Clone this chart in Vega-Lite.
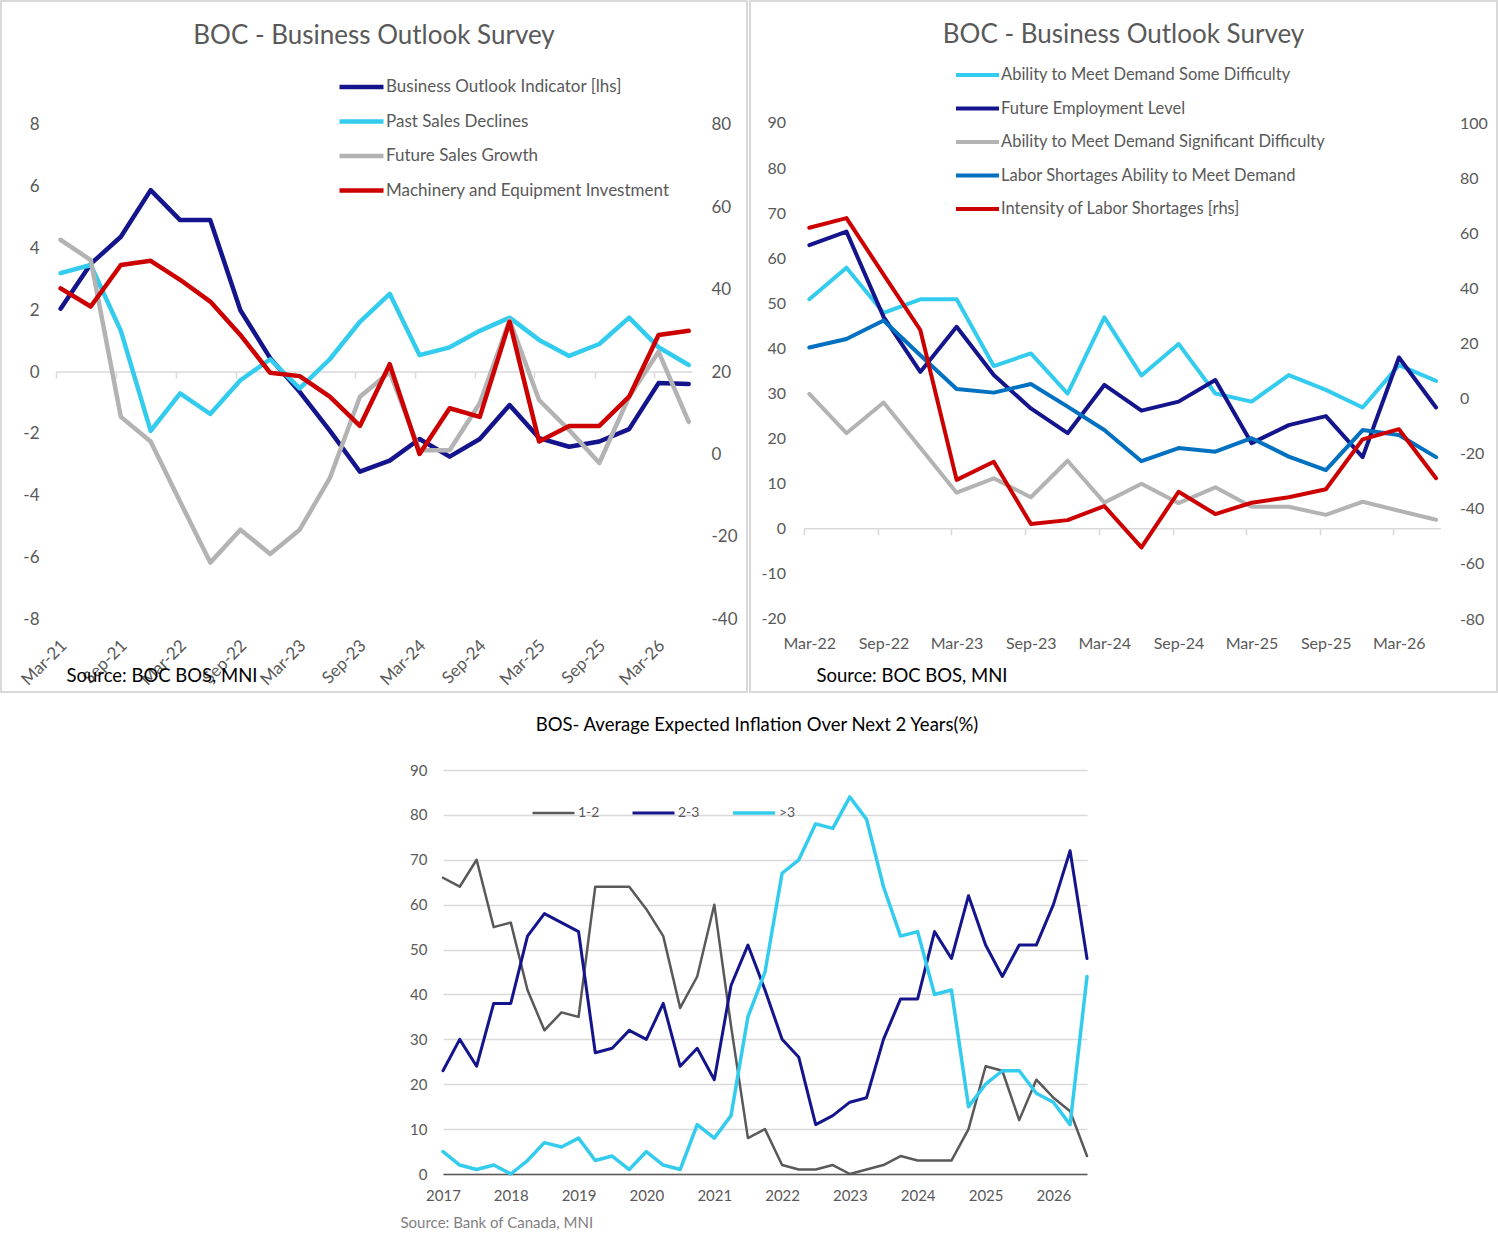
{
  "$schema": "https://vega.github.io/schema/vega-lite/v6.json",
  "background": "white",
  "padding": 0,
  "spacing": 22,
  "resolve": {"scale": {"color": "independent", "strokeWidth": "independent"}, "legend": {"color": "independent"}},
  "config": {
    "font": "Lato",
    "locale": {"number": {"decimal": ".", "thousands": ",", "grouping": [3], "currency": ["$", ""], "minus": "-"}},
    "view": {"stroke": null},
    "axis": {"labelFont": "Lato", "titleFont": "Lato"},
    "legend": {"labelFont": "Lato"},
    "title": {"font": "Lato"}
  },
  "datasets": {
    "tlL": [
      {"date": "2021-03-15", "series": "Business Outlook Indicator [lhs]", "value": 2.05},
      {"date": "2021-06-15", "series": "Business Outlook Indicator [lhs]", "value": 3.5},
      {"date": "2021-09-15", "series": "Business Outlook Indicator [lhs]", "value": 4.38},
      {"date": "2021-12-15", "series": "Business Outlook Indicator [lhs]", "value": 5.89},
      {"date": "2022-03-15", "series": "Business Outlook Indicator [lhs]", "value": 4.92},
      {"date": "2022-06-15", "series": "Business Outlook Indicator [lhs]", "value": 4.92},
      {"date": "2022-09-15", "series": "Business Outlook Indicator [lhs]", "value": 2.0},
      {"date": "2022-12-15", "series": "Business Outlook Indicator [lhs]", "value": 0.45},
      {"date": "2023-03-15", "series": "Business Outlook Indicator [lhs]", "value": -0.64},
      {"date": "2023-06-15", "series": "Business Outlook Indicator [lhs]", "value": -1.9},
      {"date": "2023-09-15", "series": "Business Outlook Indicator [lhs]", "value": -3.23},
      {"date": "2023-12-15", "series": "Business Outlook Indicator [lhs]", "value": -2.87},
      {"date": "2024-03-15", "series": "Business Outlook Indicator [lhs]", "value": -2.17},
      {"date": "2024-06-15", "series": "Business Outlook Indicator [lhs]", "value": -2.74},
      {"date": "2024-09-15", "series": "Business Outlook Indicator [lhs]", "value": -2.17},
      {"date": "2024-12-15", "series": "Business Outlook Indicator [lhs]", "value": -1.07},
      {"date": "2025-03-15", "series": "Business Outlook Indicator [lhs]", "value": -2.14},
      {"date": "2025-06-15", "series": "Business Outlook Indicator [lhs]", "value": -2.42},
      {"date": "2025-09-15", "series": "Business Outlook Indicator [lhs]", "value": -2.25},
      {"date": "2025-12-15", "series": "Business Outlook Indicator [lhs]", "value": -1.85},
      {"date": "2026-03-15", "series": "Business Outlook Indicator [lhs]", "value": -0.36},
      {"date": "2026-06-15", "series": "Business Outlook Indicator [lhs]", "value": -0.39}
    ],
    "tlR": [
      {"date": "2021-03-15", "series": "Past Sales Declines", "value": 44},
      {"date": "2021-06-15", "series": "Past Sales Declines", "value": 46},
      {"date": "2021-09-15", "series": "Past Sales Declines", "value": 30},
      {"date": "2021-12-15", "series": "Past Sales Declines", "value": 5.7},
      {"date": "2022-03-15", "series": "Past Sales Declines", "value": 14.8},
      {"date": "2022-06-15", "series": "Past Sales Declines", "value": 9.8},
      {"date": "2022-09-15", "series": "Past Sales Declines", "value": 18},
      {"date": "2022-12-15", "series": "Past Sales Declines", "value": 23.1},
      {"date": "2023-03-15", "series": "Past Sales Declines", "value": 16},
      {"date": "2023-06-15", "series": "Past Sales Declines", "value": 23.1},
      {"date": "2023-09-15", "series": "Past Sales Declines", "value": 32.2},
      {"date": "2023-12-15", "series": "Past Sales Declines", "value": 39},
      {"date": "2024-03-15", "series": "Past Sales Declines", "value": 24.1},
      {"date": "2024-06-15", "series": "Past Sales Declines", "value": 26},
      {"date": "2024-09-15", "series": "Past Sales Declines", "value": 30},
      {"date": "2024-12-15", "series": "Past Sales Declines", "value": 33.2},
      {"date": "2025-03-15", "series": "Past Sales Declines", "value": 27.8},
      {"date": "2025-06-15", "series": "Past Sales Declines", "value": 23.9},
      {"date": "2025-09-15", "series": "Past Sales Declines", "value": 26.8},
      {"date": "2025-12-15", "series": "Past Sales Declines", "value": 33.2},
      {"date": "2026-03-15", "series": "Past Sales Declines", "value": 26},
      {"date": "2026-06-15", "series": "Past Sales Declines", "value": 21.7},
      {"date": "2021-03-15", "series": "Future Sales Growth", "value": 52.1},
      {"date": "2021-06-15", "series": "Future Sales Growth", "value": 47.2},
      {"date": "2021-09-15", "series": "Future Sales Growth", "value": 9.1},
      {"date": "2021-12-15", "series": "Future Sales Growth", "value": 3.1},
      {"date": "2022-03-15", "series": "Future Sales Growth", "value": -11.5},
      {"date": "2022-06-15", "series": "Future Sales Growth", "value": -26.3},
      {"date": "2022-09-15", "series": "Future Sales Growth", "value": -18.3},
      {"date": "2022-12-15", "series": "Future Sales Growth", "value": -24.2},
      {"date": "2023-03-15", "series": "Future Sales Growth", "value": -18.3},
      {"date": "2023-06-15", "series": "Future Sales Growth", "value": -5.8},
      {"date": "2023-09-15", "series": "Future Sales Growth", "value": 14},
      {"date": "2023-12-15", "series": "Future Sales Growth", "value": 20},
      {"date": "2024-03-15", "series": "Future Sales Growth", "value": 1},
      {"date": "2024-06-15", "series": "Future Sales Growth", "value": 1},
      {"date": "2024-09-15", "series": "Future Sales Growth", "value": 12.4},
      {"date": "2024-12-15", "series": "Future Sales Growth", "value": 32.6},
      {"date": "2025-03-15", "series": "Future Sales Growth", "value": 13.2},
      {"date": "2025-06-15", "series": "Future Sales Growth", "value": 5.9},
      {"date": "2025-09-15", "series": "Future Sales Growth", "value": -2.1},
      {"date": "2025-12-15", "series": "Future Sales Growth", "value": 14},
      {"date": "2026-03-15", "series": "Future Sales Growth", "value": 24.9},
      {"date": "2026-06-15", "series": "Future Sales Growth", "value": 7.9},
      {"date": "2021-03-15", "series": "Machinery and Equipment Investment", "value": 40.3},
      {"date": "2021-06-15", "series": "Machinery and Equipment Investment", "value": 35.9},
      {"date": "2021-09-15", "series": "Machinery and Equipment Investment", "value": 46},
      {"date": "2021-12-15", "series": "Machinery and Equipment Investment", "value": 47},
      {"date": "2022-03-15", "series": "Machinery and Equipment Investment", "value": 42.4},
      {"date": "2022-06-15", "series": "Machinery and Equipment Investment", "value": 37.1},
      {"date": "2022-09-15", "series": "Machinery and Equipment Investment", "value": 29},
      {"date": "2022-12-15", "series": "Machinery and Equipment Investment", "value": 19.8},
      {"date": "2023-03-15", "series": "Machinery and Equipment Investment", "value": 19},
      {"date": "2023-06-15", "series": "Machinery and Equipment Investment", "value": 14},
      {"date": "2023-09-15", "series": "Machinery and Equipment Investment", "value": 6.9},
      {"date": "2023-12-15", "series": "Machinery and Equipment Investment", "value": 21.9},
      {"date": "2024-03-15", "series": "Machinery and Equipment Investment", "value": 0.1},
      {"date": "2024-06-15", "series": "Machinery and Equipment Investment", "value": 11.2},
      {"date": "2024-09-15", "series": "Machinery and Equipment Investment", "value": 9.1},
      {"date": "2024-12-15", "series": "Machinery and Equipment Investment", "value": 32.2},
      {"date": "2025-03-15", "series": "Machinery and Equipment Investment", "value": 3.1},
      {"date": "2025-06-15", "series": "Machinery and Equipment Investment", "value": 6.9},
      {"date": "2025-09-15", "series": "Machinery and Equipment Investment", "value": 6.9},
      {"date": "2025-12-15", "series": "Machinery and Equipment Investment", "value": 14},
      {"date": "2026-03-15", "series": "Machinery and Equipment Investment", "value": 29},
      {"date": "2026-06-15", "series": "Machinery and Equipment Investment", "value": 30}
    ],
    "trL": [
      {"date": "2022-03-15", "series": "Ability to Meet Demand Some Difficulty", "value": 50.9},
      {"date": "2022-06-15", "series": "Ability to Meet Demand Some Difficulty", "value": 57.9},
      {"date": "2022-09-15", "series": "Ability to Meet Demand Some Difficulty", "value": 47.9},
      {"date": "2022-12-15", "series": "Ability to Meet Demand Some Difficulty", "value": 50.9},
      {"date": "2023-03-15", "series": "Ability to Meet Demand Some Difficulty", "value": 50.9},
      {"date": "2023-06-15", "series": "Ability to Meet Demand Some Difficulty", "value": 36.1},
      {"date": "2023-09-15", "series": "Ability to Meet Demand Some Difficulty", "value": 38.9},
      {"date": "2023-12-15", "series": "Ability to Meet Demand Some Difficulty", "value": 30},
      {"date": "2024-03-15", "series": "Ability to Meet Demand Some Difficulty", "value": 46.9},
      {"date": "2024-06-15", "series": "Ability to Meet Demand Some Difficulty", "value": 34},
      {"date": "2024-09-15", "series": "Ability to Meet Demand Some Difficulty", "value": 41},
      {"date": "2024-12-15", "series": "Ability to Meet Demand Some Difficulty", "value": 30},
      {"date": "2025-03-15", "series": "Ability to Meet Demand Some Difficulty", "value": 28.2},
      {"date": "2025-06-15", "series": "Ability to Meet Demand Some Difficulty", "value": 34.1},
      {"date": "2025-09-15", "series": "Ability to Meet Demand Some Difficulty", "value": 30.8},
      {"date": "2025-12-15", "series": "Ability to Meet Demand Some Difficulty", "value": 26.9},
      {"date": "2026-03-15", "series": "Ability to Meet Demand Some Difficulty", "value": 36.3},
      {"date": "2026-06-15", "series": "Ability to Meet Demand Some Difficulty", "value": 32.8},
      {"date": "2022-03-15", "series": "Future Employment Level", "value": 62.9},
      {"date": "2022-06-15", "series": "Future Employment Level", "value": 65.9},
      {"date": "2022-09-15", "series": "Future Employment Level", "value": 47},
      {"date": "2022-12-15", "series": "Future Employment Level", "value": 34.8},
      {"date": "2023-03-15", "series": "Future Employment Level", "value": 44.8},
      {"date": "2023-06-15", "series": "Future Employment Level", "value": 34.1},
      {"date": "2023-09-15", "series": "Future Employment Level", "value": 26.7},
      {"date": "2023-12-15", "series": "Future Employment Level", "value": 21.2},
      {"date": "2024-03-15", "series": "Future Employment Level", "value": 31.9},
      {"date": "2024-06-15", "series": "Future Employment Level", "value": 26.2},
      {"date": "2024-09-15", "series": "Future Employment Level", "value": 28.2},
      {"date": "2024-12-15", "series": "Future Employment Level", "value": 33},
      {"date": "2025-03-15", "series": "Future Employment Level", "value": 19},
      {"date": "2025-06-15", "series": "Future Employment Level", "value": 23},
      {"date": "2025-09-15", "series": "Future Employment Level", "value": 25},
      {"date": "2025-12-15", "series": "Future Employment Level", "value": 15.9},
      {"date": "2026-03-15", "series": "Future Employment Level", "value": 38},
      {"date": "2026-06-15", "series": "Future Employment Level", "value": 26.9},
      {"date": "2022-03-15", "series": "Ability to Meet Demand Significant Difficulty", "value": 29.9},
      {"date": "2022-06-15", "series": "Ability to Meet Demand Significant Difficulty", "value": 21.2},
      {"date": "2022-09-15", "series": "Ability to Meet Demand Significant Difficulty", "value": 28},
      {"date": "2022-12-15", "series": "Ability to Meet Demand Significant Difficulty", "value": 18},
      {"date": "2023-03-15", "series": "Ability to Meet Demand Significant Difficulty", "value": 8},
      {"date": "2023-06-15", "series": "Ability to Meet Demand Significant Difficulty", "value": 11.2},
      {"date": "2023-09-15", "series": "Ability to Meet Demand Significant Difficulty", "value": 7},
      {"date": "2023-12-15", "series": "Ability to Meet Demand Significant Difficulty", "value": 15.1},
      {"date": "2024-03-15", "series": "Ability to Meet Demand Significant Difficulty", "value": 5.8},
      {"date": "2024-06-15", "series": "Ability to Meet Demand Significant Difficulty", "value": 10},
      {"date": "2024-09-15", "series": "Ability to Meet Demand Significant Difficulty", "value": 5.7},
      {"date": "2024-12-15", "series": "Ability to Meet Demand Significant Difficulty", "value": 9.2},
      {"date": "2025-03-15", "series": "Ability to Meet Demand Significant Difficulty", "value": 4.9},
      {"date": "2025-06-15", "series": "Ability to Meet Demand Significant Difficulty", "value": 4.9},
      {"date": "2025-09-15", "series": "Ability to Meet Demand Significant Difficulty", "value": 3.1},
      {"date": "2025-12-15", "series": "Ability to Meet Demand Significant Difficulty", "value": 6},
      {"date": "2026-03-15", "series": "Ability to Meet Demand Significant Difficulty", "value": 4},
      {"date": "2026-06-15", "series": "Ability to Meet Demand Significant Difficulty", "value": 2},
      {"date": "2022-03-15", "series": "Labor Shortages Ability to Meet Demand", "value": 40.2},
      {"date": "2022-06-15", "series": "Labor Shortages Ability to Meet Demand", "value": 42.1},
      {"date": "2022-09-15", "series": "Labor Shortages Ability to Meet Demand", "value": 46.2},
      {"date": "2022-12-15", "series": "Labor Shortages Ability to Meet Demand", "value": 38.5},
      {"date": "2023-03-15", "series": "Labor Shortages Ability to Meet Demand", "value": 31},
      {"date": "2023-06-15", "series": "Labor Shortages Ability to Meet Demand", "value": 30.2},
      {"date": "2023-09-15", "series": "Labor Shortages Ability to Meet Demand", "value": 32.1},
      {"date": "2023-12-15", "series": "Labor Shortages Ability to Meet Demand", "value": 27.1},
      {"date": "2024-03-15", "series": "Labor Shortages Ability to Meet Demand", "value": 21.9},
      {"date": "2024-06-15", "series": "Labor Shortages Ability to Meet Demand", "value": 15},
      {"date": "2024-09-15", "series": "Labor Shortages Ability to Meet Demand", "value": 17.9},
      {"date": "2024-12-15", "series": "Labor Shortages Ability to Meet Demand", "value": 17.1},
      {"date": "2025-03-15", "series": "Labor Shortages Ability to Meet Demand", "value": 20.1},
      {"date": "2025-06-15", "series": "Labor Shortages Ability to Meet Demand", "value": 16},
      {"date": "2025-09-15", "series": "Labor Shortages Ability to Meet Demand", "value": 13},
      {"date": "2025-12-15", "series": "Labor Shortages Ability to Meet Demand", "value": 21.9},
      {"date": "2026-03-15", "series": "Labor Shortages Ability to Meet Demand", "value": 20.8},
      {"date": "2026-06-15", "series": "Labor Shortages Ability to Meet Demand", "value": 15.9}
    ],
    "trR": [
      {"date": "2022-03-15", "series": "Intensity of Labor Shortages [rhs]", "value": 62},
      {"date": "2022-06-15", "series": "Intensity of Labor Shortages [rhs]", "value": 65.5},
      {"date": "2022-09-15", "series": "Intensity of Labor Shortages [rhs]", "value": 45},
      {"date": "2022-12-15", "series": "Intensity of Labor Shortages [rhs]", "value": 24.9},
      {"date": "2023-03-15", "series": "Intensity of Labor Shortages [rhs]", "value": -29.5},
      {"date": "2023-06-15", "series": "Intensity of Labor Shortages [rhs]", "value": -22.9},
      {"date": "2023-09-15", "series": "Intensity of Labor Shortages [rhs]", "value": -45.5},
      {"date": "2023-12-15", "series": "Intensity of Labor Shortages [rhs]", "value": -44.1},
      {"date": "2024-03-15", "series": "Intensity of Labor Shortages [rhs]", "value": -39},
      {"date": "2024-06-15", "series": "Intensity of Labor Shortages [rhs]", "value": -54},
      {"date": "2024-09-15", "series": "Intensity of Labor Shortages [rhs]", "value": -33.8},
      {"date": "2024-12-15", "series": "Intensity of Labor Shortages [rhs]", "value": -41.9},
      {"date": "2025-03-15", "series": "Intensity of Labor Shortages [rhs]", "value": -37.8},
      {"date": "2025-06-15", "series": "Intensity of Labor Shortages [rhs]", "value": -35.8},
      {"date": "2025-09-15", "series": "Intensity of Labor Shortages [rhs]", "value": -32.9},
      {"date": "2025-12-15", "series": "Intensity of Labor Shortages [rhs]", "value": -14.8},
      {"date": "2026-03-15", "series": "Intensity of Labor Shortages [rhs]", "value": -11.1},
      {"date": "2026-06-15", "series": "Intensity of Labor Shortages [rhs]", "value": -28.9}
    ],
    "bos": [
      {"date": "2017-01-01", "series": "1-2", "value": 66}, {"date": "2017-04-01", "series": "1-2", "value": 64}, {"date": "2017-07-01", "series": "1-2", "value": 70}, {"date": "2017-10-01", "series": "1-2", "value": 55},
      {"date": "2018-01-01", "series": "1-2", "value": 56}, {"date": "2018-04-01", "series": "1-2", "value": 41}, {"date": "2018-07-01", "series": "1-2", "value": 32}, {"date": "2018-10-01", "series": "1-2", "value": 36},
      {"date": "2019-01-01", "series": "1-2", "value": 35}, {"date": "2019-04-01", "series": "1-2", "value": 64}, {"date": "2019-07-01", "series": "1-2", "value": 64}, {"date": "2019-10-01", "series": "1-2", "value": 64},
      {"date": "2020-01-01", "series": "1-2", "value": 59}, {"date": "2020-04-01", "series": "1-2", "value": 53}, {"date": "2020-07-01", "series": "1-2", "value": 37}, {"date": "2020-10-01", "series": "1-2", "value": 44},
      {"date": "2021-01-01", "series": "1-2", "value": 60}, {"date": "2021-04-01", "series": "1-2", "value": 33}, {"date": "2021-07-01", "series": "1-2", "value": 8}, {"date": "2021-10-01", "series": "1-2", "value": 10},
      {"date": "2022-01-01", "series": "1-2", "value": 2}, {"date": "2022-04-01", "series": "1-2", "value": 1}, {"date": "2022-07-01", "series": "1-2", "value": 1}, {"date": "2022-10-01", "series": "1-2", "value": 2},
      {"date": "2023-01-01", "series": "1-2", "value": 0}, {"date": "2023-04-01", "series": "1-2", "value": 1}, {"date": "2023-07-01", "series": "1-2", "value": 2}, {"date": "2023-10-01", "series": "1-2", "value": 4},
      {"date": "2024-01-01", "series": "1-2", "value": 3}, {"date": "2024-04-01", "series": "1-2", "value": 3}, {"date": "2024-07-01", "series": "1-2", "value": 3}, {"date": "2024-10-01", "series": "1-2", "value": 10},
      {"date": "2025-01-01", "series": "1-2", "value": 24}, {"date": "2025-04-01", "series": "1-2", "value": 23}, {"date": "2025-07-01", "series": "1-2", "value": 12}, {"date": "2025-10-01", "series": "1-2", "value": 21},
      {"date": "2026-01-01", "series": "1-2", "value": 17}, {"date": "2026-04-01", "series": "1-2", "value": 14}, {"date": "2026-07-01", "series": "1-2", "value": 4},
      {"date": "2017-01-01", "series": "2-3", "value": 23}, {"date": "2017-04-01", "series": "2-3", "value": 30}, {"date": "2017-07-01", "series": "2-3", "value": 24}, {"date": "2017-10-01", "series": "2-3", "value": 38},
      {"date": "2018-01-01", "series": "2-3", "value": 38}, {"date": "2018-04-01", "series": "2-3", "value": 53}, {"date": "2018-07-01", "series": "2-3", "value": 58}, {"date": "2018-10-01", "series": "2-3", "value": 56},
      {"date": "2019-01-01", "series": "2-3", "value": 54}, {"date": "2019-04-01", "series": "2-3", "value": 27}, {"date": "2019-07-01", "series": "2-3", "value": 28}, {"date": "2019-10-01", "series": "2-3", "value": 32},
      {"date": "2020-01-01", "series": "2-3", "value": 30}, {"date": "2020-04-01", "series": "2-3", "value": 38}, {"date": "2020-07-01", "series": "2-3", "value": 24}, {"date": "2020-10-01", "series": "2-3", "value": 28},
      {"date": "2021-01-01", "series": "2-3", "value": 21}, {"date": "2021-04-01", "series": "2-3", "value": 42}, {"date": "2021-07-01", "series": "2-3", "value": 51}, {"date": "2021-10-01", "series": "2-3", "value": 41},
      {"date": "2022-01-01", "series": "2-3", "value": 30}, {"date": "2022-04-01", "series": "2-3", "value": 26}, {"date": "2022-07-01", "series": "2-3", "value": 11}, {"date": "2022-10-01", "series": "2-3", "value": 13},
      {"date": "2023-01-01", "series": "2-3", "value": 16}, {"date": "2023-04-01", "series": "2-3", "value": 17}, {"date": "2023-07-01", "series": "2-3", "value": 30}, {"date": "2023-10-01", "series": "2-3", "value": 39},
      {"date": "2024-01-01", "series": "2-3", "value": 39}, {"date": "2024-04-01", "series": "2-3", "value": 54}, {"date": "2024-07-01", "series": "2-3", "value": 48}, {"date": "2024-10-01", "series": "2-3", "value": 62},
      {"date": "2025-01-01", "series": "2-3", "value": 51}, {"date": "2025-04-01", "series": "2-3", "value": 44}, {"date": "2025-07-01", "series": "2-3", "value": 51}, {"date": "2025-10-01", "series": "2-3", "value": 51},
      {"date": "2026-01-01", "series": "2-3", "value": 60}, {"date": "2026-04-01", "series": "2-3", "value": 72}, {"date": "2026-07-01", "series": "2-3", "value": 48},
      {"date": "2017-01-01", "series": ">3", "value": 5}, {"date": "2017-04-01", "series": ">3", "value": 2}, {"date": "2017-07-01", "series": ">3", "value": 1}, {"date": "2017-10-01", "series": ">3", "value": 2},
      {"date": "2018-01-01", "series": ">3", "value": 0}, {"date": "2018-04-01", "series": ">3", "value": 3}, {"date": "2018-07-01", "series": ">3", "value": 7}, {"date": "2018-10-01", "series": ">3", "value": 6},
      {"date": "2019-01-01", "series": ">3", "value": 8}, {"date": "2019-04-01", "series": ">3", "value": 3}, {"date": "2019-07-01", "series": ">3", "value": 4}, {"date": "2019-10-01", "series": ">3", "value": 1},
      {"date": "2020-01-01", "series": ">3", "value": 5}, {"date": "2020-04-01", "series": ">3", "value": 2}, {"date": "2020-07-01", "series": ">3", "value": 1}, {"date": "2020-10-01", "series": ">3", "value": 11},
      {"date": "2021-01-01", "series": ">3", "value": 8}, {"date": "2021-04-01", "series": ">3", "value": 13}, {"date": "2021-07-01", "series": ">3", "value": 35}, {"date": "2021-10-01", "series": ">3", "value": 45},
      {"date": "2022-01-01", "series": ">3", "value": 67}, {"date": "2022-04-01", "series": ">3", "value": 70}, {"date": "2022-07-01", "series": ">3", "value": 78}, {"date": "2022-10-01", "series": ">3", "value": 77},
      {"date": "2023-01-01", "series": ">3", "value": 84}, {"date": "2023-04-01", "series": ">3", "value": 79}, {"date": "2023-07-01", "series": ">3", "value": 64}, {"date": "2023-10-01", "series": ">3", "value": 53},
      {"date": "2024-01-01", "series": ">3", "value": 54}, {"date": "2024-04-01", "series": ">3", "value": 40}, {"date": "2024-07-01", "series": ">3", "value": 41}, {"date": "2024-10-01", "series": ">3", "value": 15},
      {"date": "2025-01-01", "series": ">3", "value": 20}, {"date": "2025-04-01", "series": ">3", "value": 23}, {"date": "2025-07-01", "series": ">3", "value": 23}, {"date": "2025-10-01", "series": ">3", "value": 18},
      {"date": "2026-01-01", "series": ">3", "value": 16}, {"date": "2026-04-01", "series": ">3", "value": 11}, {"date": "2026-07-01", "series": ">3", "value": 44}
    ]
  },
  "vconcat": [
    {
      "bounds": "flush",
      "spacing": 3,
      "resolve": {"scale": {"color": "independent"}, "legend": {"color": "independent"}},
      "hconcat": [
        {
          "width": 746,
          "height": 691,
          "view": {"stroke": "#d9d9d9", "strokeWidth": 2},
          "title": {"text": "BOC - Business Outlook Survey", "anchor": "middle", "frame": "group", "offset": -48, "fontSize": 26, "fontWeight": "normal", "color": "#595959"},
          "layer": [
            {
              "data": {"values": [{}]},
              "mark": {"type": "rule", "color": "#d9d9d9", "strokeWidth": 1.5},
              "encoding": {
                "x": {"datum": {"year": 2021, "month": 3, "date": 1}, "type": "temporal", "scale": {"domain": [{"year": 2020, "month": 9, "date": 14}, {"year": 2026, "month": 12, "date": 10}], "nice": false}, "axis": null},
                "x2": {"datum": {"year": 2026, "month": 6, "date": 27}},
                "y": {"datum": 0, "type": "quantitative", "scale": {"domain": [-10.364, 12.016], "nice": false, "zero": false}, "axis": null}
              }
            },
            {
              "data": {"name": "tlL"},
              "mark": {"type": "line", "strokeWidth": 4.5, "strokeJoin": "round", "strokeCap": "round"},
              "encoding": {
                "x": {
                  "field": "date", "type": "temporal",
                  "scale": {"domain": [{"year": 2020, "month": 9, "date": 14}, {"year": 2026, "month": 12, "date": 10}], "nice": false},
                  "axis": {
                    "orient": "bottom", "offset": -73,
                    "values": [{"year": 2021, "month": 3, "date": 1}, {"year": 2021, "month": 9, "date": 1}, {"year": 2022, "month": 3, "date": 1}, {"year": 2022, "month": 9, "date": 1}, {"year": 2023, "month": 3, "date": 1}, {"year": 2023, "month": 9, "date": 1}, {"year": 2024, "month": 3, "date": 1}, {"year": 2024, "month": 9, "date": 1}, {"year": 2025, "month": 3, "date": 1}, {"year": 2025, "month": 9, "date": 1}, {"year": 2026, "month": 3, "date": 1}],
                    "format": "%b-%y", "labelAngle": -45, "labelAlign": "right", "labelBaseline": "top",
                    "labelOffset": 2, "labelPadding": 18, "labelFontSize": 17, "labelColor": "#595959",
                    "labelOverlap": false, "labelFlush": false, "labelBound": false,
                    "ticks": false, "domain": false, "grid": false,
                    "title": "Source: BOC BOS, MNI", "titleAnchor": "start", "titleAlign": "left", "titleBaseline": "middle",
                    "titleX": 65, "titleY": 56, "titleFontSize": 18.5, "titleFontWeight": "normal", "titleColor": "#000000"
                  }
                },
                "y": {
                  "field": "value", "type": "quantitative",
                  "scale": {"domain": [-10.364, 12.016], "nice": false, "zero": false},
                  "axis": {"orient": "left", "offset": -55, "values": [-8, -6, -4, -2, 0, 2, 4, 6, 8], "domain": false, "ticks": false, "grid": false, "labelPadding": 17, "labelFontSize": 17, "labelColor": "#595959", "title": null}
                },
                "color": {
                  "field": "series", "type": "nominal",
                  "scale": {"domain": ["Business Outlook Indicator [lhs]", "Past Sales Declines", "Future Sales Growth", "Machinery and Equipment Investment"], "range": ["#14148c", "#33ccee", "#b3b3b3", "#cc0000"]},
                  "legend": {"orient": "none", "legendX": 336, "legendY": 76, "direction": "vertical", "title": null, "symbolType": "stroke", "symbolSize": 1936, "symbolStrokeWidth": 4.5, "clipHeight": 20, "rowPadding": 14.5, "labelOffset": 0, "labelFontSize": 17, "labelColor": "#595959", "labelLimit": 400, "padding": 0}
                }
              }
            },
            {
              "data": {"name": "tlR"},
              "mark": {"type": "line", "strokeWidth": 4.5, "strokeJoin": "round", "strokeCap": "round"},
              "encoding": {
                "x": {
                  "field": "date", "type": "temporal",
                  "scale": {"domain": [{"year": 2020, "month": 9, "date": 14}, {"year": 2026, "month": 12, "date": 10}], "nice": false},
                  "axis": {
                    "orient": "bottom", "offset": -320,
                    "values": [{"year": 2021, "month": 3, "date": 1}, {"year": 2021, "month": 9, "date": 1}, {"year": 2022, "month": 3, "date": 1}, {"year": 2022, "month": 9, "date": 1}, {"year": 2023, "month": 3, "date": 1}, {"year": 2023, "month": 9, "date": 1}, {"year": 2024, "month": 3, "date": 1}, {"year": 2024, "month": 9, "date": 1}, {"year": 2025, "month": 3, "date": 1}, {"year": 2025, "month": 9, "date": 1}, {"year": 2026, "month": 3, "date": 1}],
                    "labels": false, "domain": false, "grid": false, "ticks": true, "tickSize": 6, "tickColor": "#d9d9d9", "tickWidth": 1.5, "title": null
                  }
                },
                "y": {
                  "field": "value", "type": "quantitative",
                  "scale": {"domain": [-57.73, 110.12], "nice": false, "zero": false},
                  "axis": {"orient": "right", "offset": -54.3, "values": [-40, -20, 0, 20, 40, 60, 80], "domain": false, "ticks": false, "grid": false, "labelPadding": 18.3, "labelFontSize": 17, "labelColor": "#595959", "title": null}
                },
                "color": {
                  "field": "series", "type": "nominal",
                  "scale": {"domain": ["Business Outlook Indicator [lhs]", "Past Sales Declines", "Future Sales Growth", "Machinery and Equipment Investment"], "range": ["#14148c", "#33ccee", "#b3b3b3", "#cc0000"]},
                  "legend": {"orient": "none", "legendX": 336, "legendY": 76, "direction": "vertical", "title": null, "symbolType": "stroke", "symbolSize": 1936, "symbolStrokeWidth": 4.5, "clipHeight": 20, "rowPadding": 14.5, "labelOffset": 0, "labelFontSize": 17, "labelColor": "#595959", "labelLimit": 400, "padding": 0}
                }
              }
            }
          ],
          "resolve": {"scale": {"y": "independent"}, "axis": {"x": "independent", "y": "independent"}}
        },
        {
          "width": 747,
          "height": 691,
          "view": {"stroke": "#d9d9d9", "strokeWidth": 2},
          "title": {"text": "BOC - Business Outlook Survey", "anchor": "middle", "frame": "group", "offset": -47, "fontSize": 26, "fontWeight": "normal", "color": "#595959"},
          "layer": [
            {
              "data": {"values": [{}]},
              "mark": {"type": "rule", "color": "#d9d9d9", "strokeWidth": 1.5},
              "encoding": {
                "x": {"datum": {"year": 2022, "month": 3, "date": 1}, "type": "temporal", "scale": {"domain": [{"year": 2021, "month": 10, "date": 19}, {"year": 2026, "month": 11, "date": 13}], "nice": false}, "axis": null},
                "x2": {"datum": {"year": 2026, "month": 6, "date": 27}},
                "y": {"datum": 0, "type": "quantitative", "scale": {"domain": [-36.19, 117.05], "nice": false, "zero": false}, "axis": null}
              }
            },
            {
              "data": {"name": "trL"},
              "mark": {"type": "line", "strokeWidth": 4, "strokeJoin": "round", "strokeCap": "round"},
              "encoding": {
                "x": {
                  "field": "date", "type": "temporal",
                  "scale": {"domain": [{"year": 2021, "month": 10, "date": 19}, {"year": 2026, "month": 11, "date": 13}], "nice": false},
                  "axis": {
                    "orient": "bottom", "offset": -73,
                    "values": [{"year": 2022, "month": 3, "date": 1}, {"year": 2022, "month": 9, "date": 1}, {"year": 2023, "month": 3, "date": 1}, {"year": 2023, "month": 9, "date": 1}, {"year": 2024, "month": 3, "date": 1}, {"year": 2024, "month": 9, "date": 1}, {"year": 2025, "month": 3, "date": 1}, {"year": 2025, "month": 9, "date": 1}, {"year": 2026, "month": 3, "date": 1}],
                    "format": "%b-%y", "labelAngle": 0, "labelAlign": "center", "labelBaseline": "top",
                    "labelOffset": 5.5, "labelPadding": 16, "labelFontSize": 16, "labelColor": "#595959",
                    "labelOverlap": false, "labelFlush": false, "labelBound": false,
                    "ticks": false, "domain": false, "grid": false,
                    "title": "Source: BOC BOS, MNI", "titleAnchor": "start", "titleAlign": "left", "titleBaseline": "middle",
                    "titleX": 66, "titleY": 56, "titleFontSize": 18.5, "titleFontWeight": "normal", "titleColor": "#000000"
                  }
                },
                "y": {
                  "field": "value", "type": "quantitative",
                  "scale": {"domain": [-36.19, 117.05], "nice": false, "zero": false},
                  "axis": {"orient": "left", "offset": -54, "values": [-20, -10, 0, 10, 20, 30, 40, 50, 60, 70, 80, 90], "domain": false, "ticks": false, "grid": false, "labelPadding": 18.5, "labelFontSize": 16, "labelColor": "#595959", "title": null}
                },
                "color": {
                  "field": "series", "type": "nominal",
                  "scale": {"domain": ["Ability to Meet Demand Some Difficulty", "Future Employment Level", "Ability to Meet Demand Significant Difficulty", "Labor Shortages Ability to Meet Demand", "Intensity of Labor Shortages [rhs]"], "range": ["#33ccee", "#14148c", "#b3b3b3", "#0070c0", "#cc0000"]},
                  "legend": {"orient": "none", "legendX": 204, "legendY": 64, "direction": "vertical", "title": null, "symbolType": "stroke", "symbolSize": 1849, "symbolStrokeWidth": 4, "clipHeight": 20, "rowPadding": 13.5, "labelOffset": 0, "labelFontSize": 16.5, "labelColor": "#595959", "labelLimit": 400, "padding": 0}
                }
              }
            },
            {
              "data": {"name": "trR"},
              "mark": {"type": "line", "strokeWidth": 4, "strokeJoin": "round", "strokeCap": "round"},
              "encoding": {
                "x": {
                  "field": "date", "type": "temporal",
                  "scale": {"domain": [{"year": 2021, "month": 10, "date": 19}, {"year": 2026, "month": 11, "date": 13}], "nice": false},
                  "axis": {
                    "orient": "bottom", "offset": -163.2,
                    "values": [{"year": 2022, "month": 3, "date": 1}, {"year": 2022, "month": 9, "date": 1}, {"year": 2023, "month": 3, "date": 1}, {"year": 2023, "month": 9, "date": 1}, {"year": 2024, "month": 3, "date": 1}, {"year": 2024, "month": 9, "date": 1}, {"year": 2025, "month": 3, "date": 1}, {"year": 2025, "month": 9, "date": 1}, {"year": 2026, "month": 3, "date": 1}],
                    "labels": false, "domain": false, "grid": false, "ticks": true, "tickSize": 6, "tickColor": "#d9d9d9", "tickWidth": 1.5, "title": null
                  }
                },
                "y": {
                  "field": "value", "type": "quantitative",
                  "scale": {"domain": [-106.47, 144.29], "nice": false, "zero": false},
                  "axis": {"orient": "right", "offset": -56.6, "values": [-80, -60, -40, -20, 0, 20, 40, 60, 80, 100], "domain": false, "ticks": false, "grid": false, "labelPadding": 19, "labelFontSize": 16, "labelColor": "#595959", "title": null}
                },
                "color": {
                  "field": "series", "type": "nominal",
                  "scale": {"domain": ["Ability to Meet Demand Some Difficulty", "Future Employment Level", "Ability to Meet Demand Significant Difficulty", "Labor Shortages Ability to Meet Demand", "Intensity of Labor Shortages [rhs]"], "range": ["#33ccee", "#14148c", "#b3b3b3", "#0070c0", "#cc0000"]},
                  "legend": {"orient": "none", "legendX": 204, "legendY": 64, "direction": "vertical", "title": null, "symbolType": "stroke", "symbolSize": 1849, "symbolStrokeWidth": 4, "clipHeight": 20, "rowPadding": 13.5, "labelOffset": 0, "labelFontSize": 16.5, "labelColor": "#595959", "labelLimit": 400, "padding": 0}
                }
              }
            }
          ],
          "resolve": {"scale": {"y": "independent"}, "axis": {"x": "independent", "y": "independent"}}
        }
      ]
    },
    {
      "bounds": "flush",
      "spacing": 10,
      "resolve": {"scale": {"color": "independent", "strokeWidth": "independent"}, "legend": {"color": "independent"}},
      "hconcat": [
        {
          "width": 432,
          "height": 404,
          "data": {"values": []},
          "mark": {"type": "point", "opacity": 0},
          "encoding": {}
        },
        {
          "width": 644,
          "height": 404,
          "data": {"name": "bos"},
          "title": {"text": "BOS- Average Expected Inflation Over Next 2 Years(%)", "anchor": "middle", "frame": "group", "offset": 29, "dx": -8, "fontSize": 18.5, "fontWeight": "normal", "color": "#000000"},
          "mark": {"type": "line", "strokeJoin": "round", "strokeCap": "round"},
          "encoding": {
            "x": {
              "field": "date", "type": "temporal",
              "scale": {"domain": [{"year": 2017, "month": 1, "date": 1}, {"year": 2026, "month": 7, "date": 1}], "nice": false},
              "axis": {
                "values": [{"year": 2017, "month": 1, "date": 1}, {"year": 2018, "month": 1, "date": 1}, {"year": 2019, "month": 1, "date": 1}, {"year": 2020, "month": 1, "date": 1}, {"year": 2021, "month": 1, "date": 1}, {"year": 2022, "month": 1, "date": 1}, {"year": 2023, "month": 1, "date": 1}, {"year": 2024, "month": 1, "date": 1}, {"year": 2025, "month": 1, "date": 1}, {"year": 2026, "month": 1, "date": 1}],
                "format": "%Y", "ticks": false, "grid": false, "domainColor": "#595959", "domainWidth": 1.5,
                "labelPadding": 14, "labelFontSize": 15, "labelColor": "#595959", "labelFlush": false, "labelOverlap": false,
                "title": "Source:  Bank of Canada, MNI", "titleAnchor": "start", "titleAlign": "left", "titleBaseline": "middle",
                "titleX": -43, "titleY": 48, "titleFontSize": 15, "titleFontWeight": "normal", "titleColor": "#7f7f7f"
              }
            },
            "y": {
              "field": "value", "type": "quantitative",
              "scale": {"domain": [0, 90], "nice": false},
              "axis": {"values": [0, 10, 20, 30, 40, 50, 60, 70, 80, 90], "grid": true, "gridColor": "#d9d9d9", "gridWidth": 1.5, "domain": false, "ticks": false, "labelPadding": 16, "labelFontSize": 15, "labelColor": "#595959", "title": null}
            },
            "color": {
              "field": "series", "type": "nominal",
              "scale": {"domain": ["1-2", "2-3", ">3"], "range": ["#595959", "#14148c", "#33ccee"]},
              "legend": {"orient": "none", "legendX": 88, "legendY": 35, "direction": "horizontal", "title": null, "symbolType": "stroke", "symbolSize": 1764, "symbolStrokeWidth": 3, "clipHeight": 16, "columnPadding": 31, "labelOffset": 2, "labelFontSize": 14, "labelColor": "#595959", "padding": 0}
            },
            "strokeWidth": {
              "field": "series", "type": "nominal",
              "scale": {"domain": ["1-2", "2-3", ">3"], "range": [2.5, 3.5, 3.5]},
              "legend": null
            }
          }
        }
      ]
    }
  ]
}
